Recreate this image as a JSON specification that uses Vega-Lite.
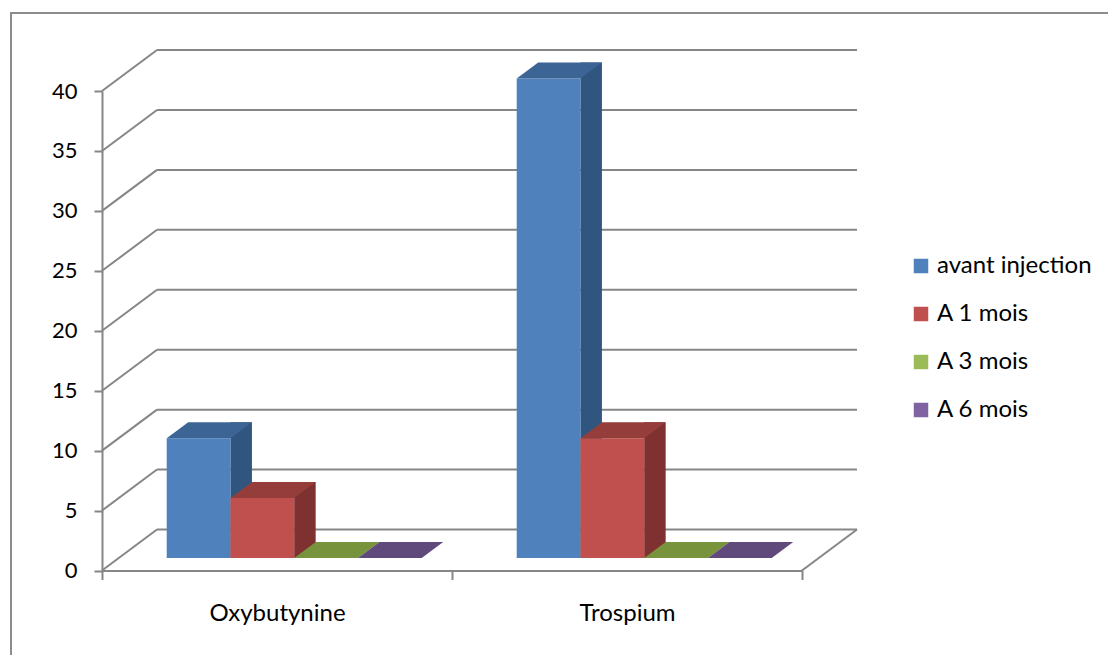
{
  "$schema": "https://vega.github.io/schema/vega-lite/v6.json",
  "width": 1110,
  "height": 660,
  "autosize": {"type": "none"},
  "padding": {"left": 11, "top": 13, "right": 0, "bottom": 0},
  "background": "white",
  "config": {
    "font": "Lato",
    "view": {"stroke": "#8c8c8c", "strokeWidth": 2},
    "axisX": {
      "offset": -102.5,
      "tickBand": "extent",
      "tickSize": 9,
      "labelPadding": 22,
      "labelFont": "Lato",
      "labelFontSize": 24,
      "labelColor": "#000000",
      "labelAngle": 0,
      "domainColor": "#868686",
      "tickColor": "#868686",
      "domainWidth": 2,
      "tickWidth": 2,
      "grid": false
    },
    "axisY": {
      "offset": -91,
      "tickCount": 8,
      "tickSize": 8,
      "labelPadding": 17,
      "labelFont": "Lato",
      "labelFontSize": 22,
      "labelColor": "#000000",
      "domainColor": "#868686",
      "tickColor": "#868686",
      "domainWidth": 2,
      "tickWidth": 2,
      "grid": false
    }
  },
  "datasets": {
    "graduations": [
      {"v": 0}, {"v": 5}, {"v": 10}, {"v": 15}, {"v": 20},
      {"v": 25}, {"v": 30}, {"v": 35}, {"v": 40}
    ],
    "scores": [
      {"groupe": "Oxybutynine", "periode": "avant injection", "valeur": 10},
      {"groupe": "Oxybutynine", "periode": "A 1 mois", "valeur": 5},
      {"groupe": "Oxybutynine", "periode": "A 3 mois", "valeur": 0},
      {"groupe": "Oxybutynine", "periode": "A 6 mois", "valeur": 0},
      {"groupe": "Trospium", "periode": "avant injection", "valeur": 40},
      {"groupe": "Trospium", "periode": "A 1 mois", "valeur": 10},
      {"groupe": "Trospium", "periode": "A 3 mois", "valeur": 0},
      {"groupe": "Trospium", "periode": "A 6 mois", "valeur": 0}
    ]
  },
  "resolve": {"scale": {"xOffset": "independent", "color": "independent"}},
  "layer": [
    {
      "data": {"name": "graduations"},
      "mark": {"type": "rule", "color": "#868686", "strokeWidth": 2, "xOffset": 55, "x2Offset": 55, "yOffset": -41},
      "encoding": {
        "x": {"datum": "Oxybutynine", "type": "nominal", "bandPosition": 0, "title": null,
              "scale": {"type": "band", "domain": ["Oxybutynine", "Trospium"], "range": [91, 791], "paddingInner": 0, "paddingOuter": 0}},
        "x2": {"datum": "Trospium", "bandPosition": 1},
        "y": {"field": "v", "type": "quantitative", "title": null,
              "scale": {"domain": [0, 40], "range": [557.5, 78], "nice": false}}
      }
    },
    {
      "data": {"name": "graduations"},
      "mark": {"type": "rule", "color": "#868686", "strokeWidth": 2, "x2Offset": 55, "y2Offset": -41},
      "encoding": {
        "x": {"datum": "Oxybutynine", "type": "nominal", "bandPosition": 0, "title": null},
        "x2": {"datum": "Oxybutynine", "bandPosition": 0},
        "y": {"field": "v", "type": "quantitative", "title": null},
        "y2": {"field": "v"}
      }
    },
    {
      "data": {"values": [{"v": 0}]},
      "mark": {"type": "rule", "color": "#868686", "strokeWidth": 2, "x2Offset": 55, "y2Offset": -41},
      "encoding": {
        "x": {"datum": "Trospium", "type": "nominal", "bandPosition": 1, "title": null},
        "x2": {"datum": "Trospium", "bandPosition": 1},
        "y": {"field": "v", "type": "quantitative", "title": null},
        "y2": {"field": "v"}
      }
    },
    {
      "data": {"name": "scores"},
      "transform": [{"filter": "datum.valeur > 0"}],
      "mark": {"type": "bar", "width": 21.5, "yOffset": -28.5, "y2Offset": -12.5},
      "encoding": {
        "x": {"field": "groupe", "type": "nominal", "title": null},
        "xOffset": {"field": "periode", "type": "nominal",
                    "scale": {"domain": ["avant injection", "A 1 mois", "A 3 mois", "A 6 mois"], "range": [107.3, 362.3], "paddingInner": 0, "paddingOuter": 0}},
        "y": {"field": "valeur", "type": "quantitative", "stack": null, "title": null},
        "y2": {"datum": 0},
        "color": {"field": "periode", "type": "nominal", "legend": null,
                  "scale": {"domain": ["avant injection", "A 1 mois", "A 3 mois", "A 6 mois"], "range": ["#30557f", "#7e3130", "#5f7530", "#4c3b62"]}}
      }
    },
    {
      "data": {"name": "scores"},
      "mark": {"type": "bar", "yOffset": -12.5, "y2Offset": -12.5},
      "encoding": {
        "x": {"field": "groupe", "type": "nominal", "title": null},
        "xOffset": {"field": "periode", "type": "nominal",
                    "scale": {"domain": ["avant injection", "A 1 mois", "A 3 mois", "A 6 mois"], "range": [64.7, 319.7], "paddingInner": 0, "paddingOuter": 0}},
        "y": {"field": "valeur", "type": "quantitative", "stack": null, "title": null},
        "y2": {"datum": 0},
        "color": {"field": "periode", "type": "nominal",
                  "scale": {"domain": ["avant injection", "A 1 mois", "A 3 mois", "A 6 mois"], "range": ["#4f81bd", "#c0504d", "#9bbb59", "#8064a2"]},
                  "legend": {
                    "title": null, "orient": "none", "legendX": 898, "legendY": 241,
                    "symbolType": "square", "symbolSize": 210, "symbolStrokeWidth": 0,
                    "labelFont": "Lato", "labelFontSize": 24, "labelColor": "#000000",
                    "labelOffset": 4, "rowPadding": 24
                  }}
      }
    },
    {
      "data": {"name": "scores"},
      "mark": {"type": "point", "shape": "M0,0L63.75,0L85.25,-16L21.5,-16Z", "size": 4, "filled": true, "opacity": 1, "strokeWidth": 0, "yOffset": -12.5},
      "encoding": {
        "x": {"field": "groupe", "type": "nominal", "title": null},
        "xOffset": {"field": "periode", "type": "nominal",
                    "scale": {"type": "point", "domain": ["avant injection", "A 1 mois", "A 3 mois", "A 6 mois"], "range": [64.7, 255.95], "padding": 0}},
        "y": {"field": "valeur", "type": "quantitative", "title": null},
        "color": {"field": "periode", "type": "nominal", "legend": null,
                  "scale": {"domain": ["avant injection", "A 1 mois", "A 3 mois", "A 6 mois"], "range": ["#3c6595", "#943d3a", "#77933c", "#604a7b"]}}
      }
    }
  ]
}
